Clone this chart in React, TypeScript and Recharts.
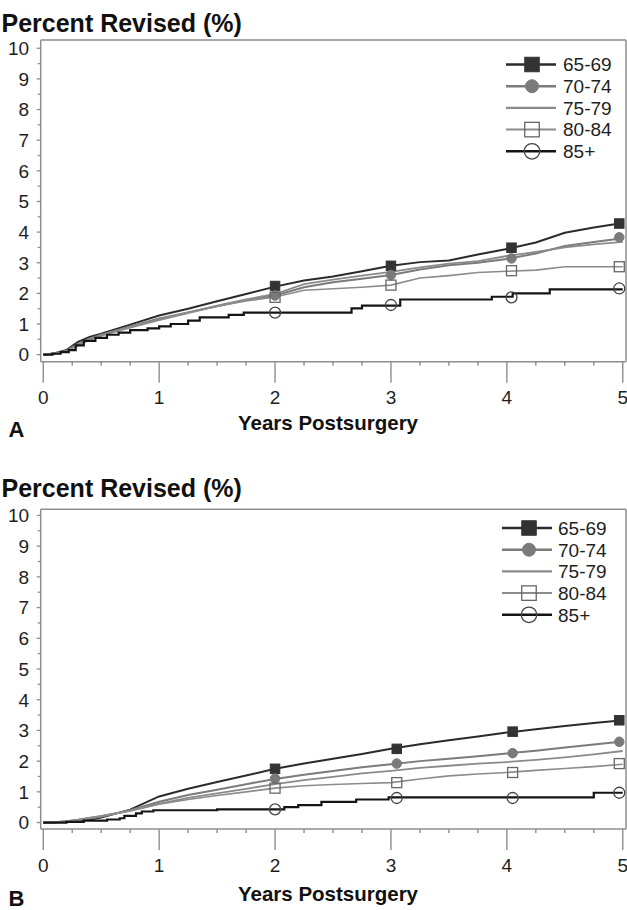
import React from 'react';
import { ComposedChart, Line, Scatter, XAxis, YAxis, ReferenceLine } from 'recharts';

// ---------- DATA ----------
const groups = ['65-69', '70-74', '75-79', '80-84', '85+'];

const years = [0, 0.1, 0.2, 0.3, 0.4, 0.5, 0.75, 1, 1.25, 1.5, 1.75, 2, 2.25, 2.5, 2.75, 3, 3.25, 3.5, 3.75, 4, 4.25, 4.5, 4.75, 5];

// Panel A
const a6569 = [0, 0.05, 0.15, 0.42, 0.58, 0.68, 0.98, 1.28, 1.5, 1.74, 1.98, 2.22, 2.42, 2.55, 2.72, 2.9, 3.02, 3.07, 3.27, 3.45, 3.66, 3.98, 4.15, 4.3];
const a7074 = [0, 0.04, 0.12, 0.35, 0.52, 0.65, 0.92, 1.18, 1.38, 1.58, 1.78, 1.93, 2.2, 2.36, 2.48, 2.6, 2.78, 2.92, 3.0, 3.12, 3.3, 3.55, 3.68, 3.8];
const a7579 = [0, 0.04, 0.12, 0.32, 0.5, 0.63, 0.9, 1.15, 1.38, 1.6, 1.8, 1.98, 2.3, 2.45, 2.58, 2.7, 2.85, 2.97, 3.05, 3.22, 3.35, 3.5, 3.6, 3.68];
const a8084 = [0, 0.03, 0.1, 0.3, 0.48, 0.62, 0.88, 1.12, 1.35, 1.58, 1.75, 1.88, 2.1, 2.15, 2.2, 2.27, 2.5, 2.58, 2.68, 2.72, 2.76, 2.87, 2.87, 2.87];
const a85Years = [0, 0.08, 0.15, 0.22, 0.28, 0.35, 0.45, 0.55, 0.65, 0.75, 0.9, 1.0, 1.1, 1.25, 1.35, 1.6, 1.73, 2.66, 2.75, 3.08, 3.87, 4.05, 4.37, 5];
const a85Values = [0, 0.03, 0.08, 0.15, 0.3, 0.45, 0.55, 0.65, 0.72, 0.8, 0.86, 0.92, 1.0, 1.11, 1.22, 1.3, 1.37, 1.51, 1.6, 1.8, 1.89, 2.0, 2.13, 2.13];

const aMarkYears = [2, 3, 4.04, 4.97];
const aMark6569 = [2.24, 2.9, 3.49, 4.28];
const aMark7074 = [1.93, 2.6, 3.14, 3.83];
const aMark8084 = [1.87, 2.27, 2.74, 2.87];
const aMark85 = [1.37, 1.62, 1.87, 2.16];

// Panel B
const b6569 = [0, 0.01, 0.03, 0.06, 0.1, 0.16, 0.42, 0.85, 1.1, 1.32, 1.53, 1.75, 1.92, 2.08, 2.23, 2.4, 2.55, 2.68, 2.8, 2.93, 3.04, 3.14, 3.24, 3.33];
const b7074 = [0, 0.01, 0.04, 0.08, 0.14, 0.2, 0.4, 0.68, 0.9, 1.07, 1.25, 1.42, 1.56, 1.68, 1.8, 1.9, 2.0, 2.08, 2.16, 2.25, 2.34, 2.44, 2.54, 2.64];
const b7579 = [0, 0.01, 0.04, 0.08, 0.14, 0.2, 0.38, 0.62, 0.8, 0.95, 1.1, 1.25, 1.38, 1.49, 1.6, 1.68, 1.78, 1.85, 1.92, 1.97, 2.04, 2.12, 2.22, 2.33];
const b8084 = [0, 0.01, 0.05, 0.1, 0.16, 0.22, 0.38, 0.6, 0.75, 0.88, 1.0, 1.12, 1.2, 1.24, 1.27, 1.3, 1.42, 1.52, 1.58, 1.63, 1.7, 1.76, 1.82, 1.9];
const b85Years = [0, 0.2, 0.35, 0.55, 0.66, 0.7, 0.8, 0.85, 0.95, 1.5, 2.08, 2.2, 2.4, 2.7, 2.98, 4.75, 5];
const b85Values = [0, 0.02, 0.06, 0.1, 0.14, 0.22, 0.3, 0.36, 0.4, 0.43, 0.5, 0.57, 0.67, 0.75, 0.82, 0.97, 0.97];

const bMarkYears = [2, 3.05, 4.05, 4.97];
const bMark6569 = [1.75, 2.4, 2.96, 3.33];
const bMark7074 = [1.43, 1.92, 2.26, 2.63];
const bMark8084 = [1.12, 1.3, 1.63, 1.92];
const bMark85 = [0.43, 0.8, 0.8, 0.97];

const xTicks = [0, 0.25, 0.5, 0.75, 1, 1.25, 1.5, 1.75, 2, 2.25, 2.5, 2.75, 3, 3.25, 3.5, 3.75, 4, 4.25, 4.5, 4.75, 5];
const yTicks = [0, 0.5, 1, 1.5, 2, 2.5, 3, 3.5, 4, 4.5, 5, 5.5, 6, 6.5, 7, 7.5, 8, 8.5, 9, 9.5, 10];

const titleText = 'Percent Revised (%)';
const xLabelText = 'Years Postsurgery';

// ---------- STYLE ----------
const FONT = '"Liberation Sans", Arial, Helvetica, sans-serif';
const AXIS = '#8e8e8e';
const TEXT = '#1e1e1e';

const seriesStyle: Record<string, { stroke: string; width: number; marker: string; mfill: string; mstroke: string }> = {
  '65-69': { stroke: '#2b2b2b', width: 2, marker: 'square', mfill: '#333333', mstroke: '#333333' },
  '70-74': { stroke: '#7b7b7b', width: 2, marker: 'circle', mfill: '#7a7a7a', mstroke: '#7a7a7a' },
  '75-79': { stroke: '#8a8a8a', width: 1.8, marker: 'none', mfill: 'none', mstroke: 'none' },
  '80-84': { stroke: '#8c8c8c', width: 1.6, marker: 'hsquare', mfill: 'none', mstroke: '#666666' },
  '85+': { stroke: '#141414', width: 2.2, marker: 'hcircle', mfill: 'none', mstroke: '#444444' },
};

const pts = (xs: number[], ys: number[]) => xs.map((t, i) => ({ t, v: ys[i] }));

function drawMarker(kind: string, cx: number, cy: number, s: number, fill: string, stroke: string) {
  if (kind === 'square') return <rect x={cx - s / 2} y={cy - s / 2} width={s} height={s} fill={fill} stroke={stroke} strokeWidth={1} />;
  if (kind === 'circle') return <circle cx={cx} cy={cy} r={s / 2} fill={fill} stroke={stroke} strokeWidth={1} />;
  if (kind === 'hsquare') return <rect x={cx - s / 2} y={cy - s / 2} width={s} height={s} fill="none" stroke={stroke} strokeWidth={1.3} />;
  if (kind === 'hcircle') return <circle cx={cx} cy={cy} r={s / 2 + 0.5} fill="none" stroke={stroke} strokeWidth={1.3} />;
  return <g />;
}

const XTick = (props: any) => {
  const { x, y, payload } = props;
  const val = payload.value as number;
  const major = Math.abs(val - Math.round(val)) < 1e-6;
  return (
    <g>
      <line x1={x} x2={x} y1={y} y2={y + (major ? 21 : 4)} stroke={AXIS} strokeWidth={1.4} />
      {major && (
        <text x={x} y={y + 42.5} textAnchor="middle" fontSize={19} fill={TEXT} fontFamily={FONT}>
          {val}
        </text>
      )}
    </g>
  );
};

const YTick = (props: any) => {
  const { x, y, payload } = props;
  const val = payload.value as number;
  const major = Math.abs(val - Math.round(val)) < 1e-6;
  return (
    <g>
      <line x1={x - (major ? 4 : 3)} x2={x} y1={y} y2={y} stroke={AXIS} strokeWidth={1.3} />
      {major && (
        <text x={x - 11.5} y={y + 6.8} textAnchor="end" fontSize={19} fill={TEXT} fontFamily={FONT}>
          {val}
        </text>
      )}
    </g>
  );
};

type PanelProps = {
  top: number;
  marginTop: number;
  xAxisHeight: number;
  yDomain: [number, number];
  lines: Record<string, { t: number; v: number }[]>;
  markers: Record<string, { t: number; v: number }[]>;
};

function Panel({ top, marginTop, xAxisHeight, yDomain, lines, markers }: PanelProps) {
  return (
    <div style={{ position: 'absolute', left: 0, top }}>
      <ComposedChart width={627} height={440} margin={{ top: marginTop, right: 1, bottom: 0, left: 0 }}>
        <XAxis
          type="number"
          dataKey="t"
          domain={[-0.022, 5.028]}
          allowDataOverflow
          ticks={xTicks}
          interval={0}
          tickSize={0}
          tickMargin={0}
          tickLine={false}
          tick={XTick}
          axisLine={{ stroke: AXIS, strokeWidth: 1.5 }}
          height={xAxisHeight}
        />
        <YAxis
          type="number"
          dataKey="v"
          domain={yDomain}
          allowDataOverflow
          ticks={yTicks}
          interval={0}
          tickSize={0}
          tickMargin={0}
          tickLine={false}
          tick={YTick}
          axisLine={{ stroke: AXIS, strokeWidth: 1.5 }}
          width={40.7}
        />
        <ReferenceLine y={yDomain[1]} stroke={AXIS} strokeWidth={1.5} ifOverflow="visible" />
        <ReferenceLine x={5.028} stroke={AXIS} strokeWidth={1.5} ifOverflow="visible" />
        {groups.map((g) => (
          <Line
            key={g}
            data={lines[g]}
            dataKey="v"
            type={g === '85+' ? 'stepAfter' : 'linear'}
            stroke={seriesStyle[g].stroke}
            strokeWidth={seriesStyle[g].width}
            dot={false}
            activeDot={false}
            isAnimationActive={false}
          />
        ))}
        {groups
          .filter((g) => markers[g])
          .map((g) => (
            <Scatter
              key={'m' + g}
              data={markers[g]}
              dataKey="v"
              isAnimationActive={false}
              shape={(p: any) =>
                drawMarker(
                  seriesStyle[g].marker,
                  p.cx,
                  p.cy,
                  g === '85+' || g === '80-84' ? 10 : 9.5,
                  seriesStyle[g].mfill,
                  seriesStyle[g].mstroke
                )
              }
            />
          ))}
      </ComposedChart>
    </div>
  );
}

function LegendOverlay({ x0, x1, mx, tx, y0, dy }: { x0: number; x1: number; mx: number; tx: number; y0: number; dy: number }) {
  return (
    <g>
      {groups.map((g, i) => {
        const y = y0 + i * dy;
        const st = seriesStyle[g];
        return (
          <g key={g}>
            <line x1={x0} x2={x1} y1={y} y2={y} stroke={st.stroke} strokeWidth={st.width + 0.4} />
            {drawMarker(st.marker, mx, y, g === '70-74' ? 13 : 14.5, st.mfill, st.mstroke)}
            <text x={tx} y={y + 6.8} fontSize={19} fill={TEXT} fontFamily={FONT}>
              {g}
            </text>
          </g>
        );
      })}
    </g>
  );
}

const textStyle: React.CSSProperties = {
  position: 'absolute',
  fontFamily: FONT,
  fontWeight: 700,
  color: '#111',
  whiteSpace: 'nowrap',
};

export default function App() {
  const linesA = {
    '65-69': pts(years, a6569),
    '70-74': pts(years, a7074),
    '75-79': pts(years, a7579),
    '80-84': pts(years, a8084),
    '85+': pts(a85Years, a85Values),
  };
  const markersA: Record<string, { t: number; v: number }[]> = {
    '65-69': pts(aMarkYears, aMark6569),
    '70-74': pts(aMarkYears, aMark7074),
    '80-84': pts(aMarkYears, aMark8084),
    '85+': pts(aMarkYears, aMark85),
  };
  const linesB = {
    '65-69': pts(years, b6569),
    '70-74': pts(years, b7074),
    '75-79': pts(years, b7579),
    '80-84': pts(years, b8084),
    '85+': pts(b85Years, b85Values),
  };
  const markersB: Record<string, { t: number; v: number }[]> = {
    '65-69': pts(bMarkYears, bMark6569),
    '70-74': pts(bMarkYears, bMark7074),
    '80-84': pts(bMarkYears, bMark8084),
    '85+': pts(bMarkYears, bMark85),
  };

  return (
    <div style={{ position: 'absolute', left: 0, top: 0, width: 627, height: 910, background: '#fff', overflow: 'hidden' }}>
      <Panel top={0} marginTop={40} xAxisHeight={78.3} yDomain={[-0.23, 10.27]} lines={linesA} markers={markersA} />
      <Panel top={469} marginTop={40.3} xAxisHeight={80} yDomain={[-0.21, 10.2]} lines={linesB} markers={markersB} />

      <svg width={627} height={910} style={{ position: 'absolute', left: 0, top: 0, pointerEvents: 'none' }}>
        <LegendOverlay x0={506} x1={556} mx={532} tx={563} y0={64.5} dy={21.7} />
        <LegendOverlay x0={502} x1={552} mx={529} tx={558} y0={528} dy={21.7} />
      </svg>

      <div style={{ ...textStyle, left: 1.5, top: 11, fontSize: 25, lineHeight: '25px' }}>{titleText}</div>
      <div style={{ ...textStyle, left: 1.5, top: 475.5, fontSize: 25, lineHeight: '25px' }}>{titleText}</div>

      <div style={{ ...textStyle, left: 30, width: 596, textAlign: 'center', top: 413, fontSize: 20.5, lineHeight: '20.5px' }}>{xLabelText}</div>
      <div style={{ ...textStyle, left: 30, width: 596, textAlign: 'center', top: 884, fontSize: 20.5, lineHeight: '20.5px' }}>{xLabelText}</div>

      <div style={{ ...textStyle, left: 8.5, top: 421.3, fontSize: 22, lineHeight: '18px' }}>A</div>
      <div style={{ ...textStyle, left: 8.5, top: 890.3, fontSize: 22, lineHeight: '18px' }}>B</div>
    </div>
  );
}
